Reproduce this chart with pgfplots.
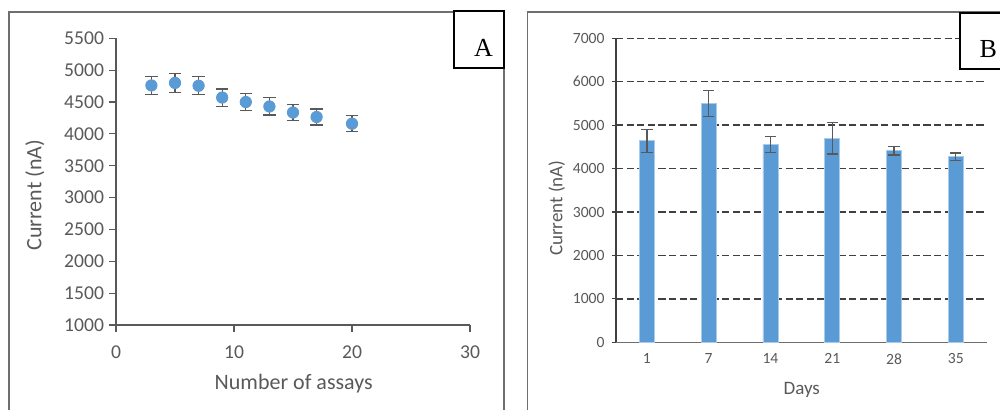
\documentclass[border=0pt]{standalone}
\usepackage{pgfplots}
\pgfplotsset{compat=1.18}
\usepackage{fontspec}
\setmainfont{Carlito}
\newfontfamily\seriffont{Liberation Serif}
\definecolor{barblue}{HTML}{5B9BD5}
\definecolor{baredge}{HTML}{A9CBEA}
\definecolor{txtgray}{HTML}{595959}
\definecolor{errgray}{HTML}{595959}
\definecolor{framegray}{HTML}{6E6E6E}
\definecolor{gridgray}{HTML}{404040}

\pgfplotstableread{
x y err
3 4760 140
5 4800 150
7 4755 140
9 4570 135
11 4500 130
13 4430 135
15 4335 130
17 4265 125
20 4160 125
}\dataA

\pgfplotstableread{
x y err
0 4640 265
1 5500 300
2 4550 185
3 4700 365
4 4410 95
5 4270 90
}\dataB

\begin{document}
\begin{tikzpicture}[x=1pt,y=1pt]
\clip (0,0) rectangle (500,205);
\begin{axis}[
  at={(58pt,42.5pt)}, anchor=south west, scale only axis,
  width=177pt, height=143.35pt,
  xmin=0, xmax=30, ymin=1000, ymax=5500,
  xtick={0,10,20,30}, ytick={1000,1500,...,5500},
  axis x line*=bottom, axis y line*=left,
  axis line style={draw=errgray, line width=0.6pt},
  tick align=outside, major tick length=3.5pt,
  tick style={draw=errgray, line width=0.6pt},
  /pgf/number format/assume math mode=true,
  /pgf/number format/1000 sep={},
  ticklabel style={font=\fontsize{9.8}{11}\selectfont, text=txtgray},
  xticklabel style={yshift=-3.5pt},
  yticklabel style={xshift=1pt},
  xlabel={Number of assays}, ylabel={Current (nA)},
  label style={font=\fontsize{11}{13}\selectfont, text=txtgray},
  xlabel style={at={(axis description cs:0.502,-0.205)}, anchor=center},
  ylabel style={at={(axis description cs:-0.229,0.453)}, anchor=center},
  clip=false,
]
\addplot[only marks, mark=*, mark size=2.85pt,
  mark options={fill=barblue, draw=barblue},
  error bars/.cd, y dir=both, y explicit,
  error bar style={draw=errgray, line width=0.6pt},
  error mark options={rotate=90, draw=errgray, mark size=3.1pt, line width=0.6pt}]
  table[x=x, y=y, y error=err]{\dataA};
\end{axis}

\begin{axis}[
  at={(308pt,33.85pt)}, anchor=south west, scale only axis,
  width=185.35pt, height=152pt,
  xmin=-0.5, xmax=5.5, ymin=0, ymax=7000,
  xtick={0,1,2,3,4,5}, xticklabels={1,7,14,21,28,35},
  ytick={0,1000,...,7000},
  ymajorgrids,
  grid style={draw=gridgray, line width=0.75pt, dash pattern=on 3.6pt off 1.7pt},
  axis x line*=bottom, axis y line*=left,
  x axis line style={draw=framegray, line width=0.6pt},
  y axis line style={draw=gridgray, line width=0.6pt},
  tick align=outside,
  ytick style={draw=gridgray, line width=0.6pt}, major tick length=2.2pt,
  xtick style={draw=none},
  /pgf/number format/assume math mode=true,
  /pgf/number format/1000 sep={},
  ticklabel style={font=\fontsize{7.8}{9}\selectfont, text=txtgray},
  xlabel={Days}, ylabel={Current (nA)},
  label style={font=\fontsize{9.5}{11}\selectfont, text=txtgray},
  xlabel style={at={(axis description cs:0.501,-0.157)}, anchor=center},
  ylabel style={at={(axis description cs:-0.16,0.441)}, anchor=center},
  clip=false,
]
\addplot[ybar, bar width=7.5pt, fill=barblue, draw=baredge, line width=0.4pt,
  error bars/.cd, y dir=both, y explicit,
  error bar style={draw=errgray, line width=0.6pt},
  error mark options={rotate=90, draw=errgray, mark size=2.8pt, line width=0.6pt}]
  table[x=x, y=y, y error=err]{\dataB};
\end{axis}

\draw[framegray, line width=0.7pt] (4.5,-2) -- (4.5,199) -- (252,199) -- (252,-2);
\draw[framegray, line width=0.7pt] (263.65,-2) -- (263.65,199) -- (505,199);
\draw[black, line width=0.8pt, fill=white] (227,171) rectangle (252,199.5);
\node[font=\seriffont\fontsize{13}{15}\selectfont, inner sep=0pt] at (241.7,180.8) {A};
\draw[black, line width=0.8pt, fill=white] (480,170.5) rectangle (510,198.5);
\node[font=\seriffont\fontsize{13}{15}\selectfont, inner sep=0pt] at (494.2,180.6) {B};
\end{tikzpicture}
\end{document}
